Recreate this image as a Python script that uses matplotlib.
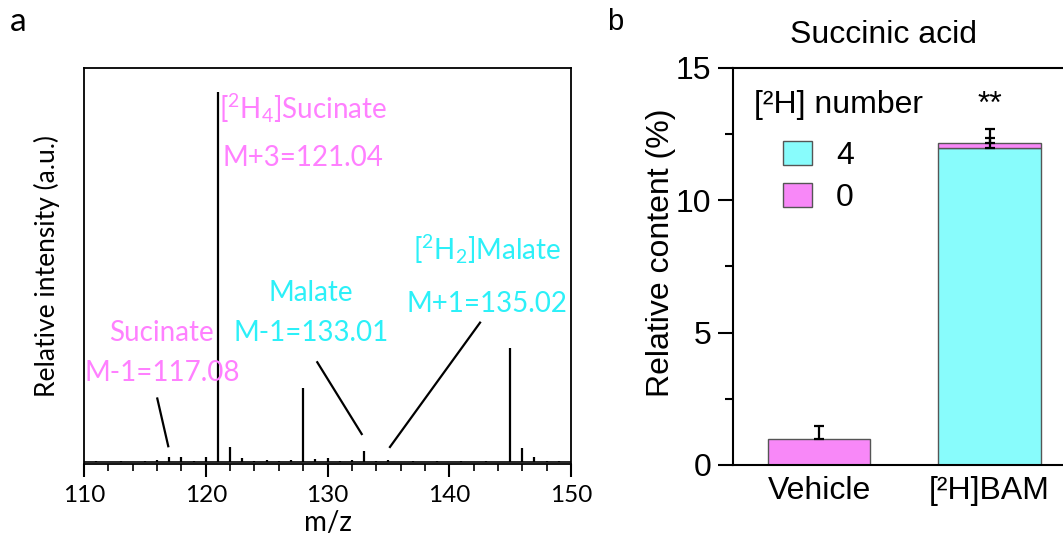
import matplotlib
matplotlib.use('Agg')
import matplotlib.pyplot as plt
from matplotlib.patches import Patch

# ---- panel a: mass spectrum ----
mz = [111, 113, 115, 116, 117, 118, 119, 120, 121, 122, 123, 124, 125, 126, 127,
      128, 129, 130, 131, 132, 133, 134, 135, 137, 139, 141, 143, 145, 146, 147, 148, 149]
intensity = [0.3, 0.3, 0.3, 0.5, 1.3, 1.3, 0.3, 1.3, 100, 4.2, 1.1, 0.4, 0.5, 0.4, 0.6,
             20.1, 0.8, 1.2, 0.3, 0.5, 2.9, 0.3, 0.6, 0.2, 0.2, 0.2, 0.2, 30.9, 3.7, 1.5, 0.3, 0.4]

# ---- panel b: stacked bars ----
groups = ['Vehicle', '[²H]BAM']
h4 = [0.0, 11.98]
h0 = [0.97, 0.19]
h4_err = [0.0, 0.35]
h0_err = [0.5, 0.5]

PINK_TXT = '#ff80ff'
CYAN_TXT = '#2cf0f8'
CYAN = '#88fcfc'
PINK = '#f888f8'

plt.rcParams['mathtext.fontset'] = 'custom'
plt.rcParams['mathtext.rm'] = 'Lato'
plt.rcParams['mathtext.it'] = 'Lato:italic'

fig = plt.figure(figsize=(10.63, 5.44), dpi=100)

ax = fig.add_axes([84 / 1063, 1 - 464 / 544, (571 - 84) / 1063, (464 - 68) / 544])
ax.vlines(mz, 0, intensity, color='black', lw=1.6)
ax.plot([110, 150], [0, 0], color='black', lw=1.2)
ax.set_xlim(110, 150)
ax.set_ylim(-0.5, 106.5)
ax.set_yticks([])
ax.set_xticks(range(110, 151, 10))
ax.set_xticks(range(110, 151, 2), minor=True)
ax.tick_params(axis='x', which='major', direction='out', length=9, width=1.5, pad=6)
ax.tick_params(axis='x', which='minor', direction='out', length=5, width=1.2)
for sp in ax.spines.values():
    sp.set_linewidth(1.3)
for lab in ax.get_xticklabels():
    lab.set_family('Lato')
    lab.set_fontsize(17.5)
ax.set_xlabel('m/z', family='Lato', fontsize=20, labelpad=3)
ax.set_ylabel('Relative intensity (a.u.)', family='Lato', fontsize=19)
ax.yaxis.set_label_coords(-0.05, 0.5)

tkw = dict(family='Lato', fontsize=20, ha='center', va='center')
ax.text(128.0, 95.7, r'[$^{2}$H$_{4}$]Sucinate', color=PINK_TXT, **tkw)
ax.text(128.0, 82.2, 'M+3=121.04', color=PINK_TXT, **tkw)
ax.text(116.4, 34.9, 'Sucinate', color=PINK_TXT, **tkw)
ax.text(116.4, 24.1, 'M-1=117.08', color=PINK_TXT, **tkw)
ax.text(128.65, 45.7, 'Malate', color=CYAN_TXT, **tkw)
ax.text(128.65, 34.9, 'M-1=133.01', color=CYAN_TXT, **tkw)
ax.text(143.1, 57.6, r'[$^{2}$H$_{2}$]Malate', color=CYAN_TXT, **tkw)
ax.text(143.1, 42.7, 'M+1=135.02', color=CYAN_TXT, **tkw)
ax.plot([116.02, 116.92], [17.2, 4.3], color='black', lw=1.6)
ax.plot([129.16, 132.81], [27.0, 7.6], color='black', lw=1.6)
ax.plot([142.53, 135.13], [37.7, 4.1], color='black', lw=1.6)

fig.text(10 / 1063, 1 - 22 / 544, 'a', family='Lato', fontsize=24, va='center')

# ---- panel b ----
font_b = ['Liberation Sans', 'DejaVu Sans']
FS = 23
bx = fig.add_axes([733.3 / 1063, 1 - 465 / 544, (1063 - 733.3) / 1063, (465 - 67.7) / 544])
x = list(range(len(groups)))
bx.bar(x, h4, width=0.6, color=CYAN, edgecolor='#555555', lw=1.0)
bx.bar(x, h0, width=0.6, bottom=h4, color=PINK, edgecolor='#555555', lw=1.0)
tops4 = [v for v in h4]
tops0 = [a + b for a, b in zip(h4, h0)]
bx.errorbar([x[1]], [tops4[1]], yerr=[[0], [h4_err[1]]], fmt='none', ecolor='black',
            elinewidth=1.6, capsize=3.5, capthick=1.6)
bx.errorbar(x, tops0, yerr=[[0, 0], h0_err], fmt='none', ecolor='black',
            elinewidth=1.6, capsize=3.5, capthick=1.6)
bx.set_xlim(-0.503, 1.43)
bx.set_ylim(0, 15)
bx.set_yticks([0, 5, 10, 15])
bx.set_yticks([2.5, 7.5, 12.5], minor=True)
bx.set_xticks(x)
bx.set_xticklabels(groups)
bx.tick_params(axis='y', which='major', direction='out', length=11, width=1.5, pad=5)
bx.tick_params(axis='y', which='minor', direction='out', length=6, width=1.5)
bx.tick_params(axis='x', length=0, pad=8)
for lab in bx.get_xticklabels() + bx.get_yticklabels():
    lab.set_family(font_b)
    lab.set_fontsize(FS)
bx.spines['right'].set_visible(False)
for sp in bx.spines.values():
    sp.set_linewidth(1.5)
bx.set_ylabel('Relative content (%)', family=font_b, fontsize=FS)
bx.yaxis.set_label_coords(-0.173, 0.535)
bx.text(x[1], 13.6, '**', family=font_b, fontsize=FS, ha='center', va='center')

bx.text(-0.38, 13.6, '[²H] number', family=font_b, fontsize=FS, va='center', ha='left')
handles = [Patch(facecolor=CYAN, edgecolor='#555555', label='4'),
           Patch(facecolor=PINK, edgecolor='#555555', label='0')]
leg = bx.legend(handles=handles, loc='upper left', bbox_to_anchor=(0.151, 0.815),
                frameon=False, prop={'family': font_b, 'size': FS},
                handlelength=0.9, handleheight=0.75, handletextpad=0.75,
                labelspacing=0.37, borderpad=0, borderaxespad=0)

fig.text(883 / 1063, 1 - 35 / 544, 'Succinic acid', family=font_b, fontsize=FS,
         ha='center', va='center')
fig.text(607 / 1063, 1 - 22 / 544, 'b', family=font_b, fontsize=21, va='center')

fig.savefig('out.png', dpi=100)
